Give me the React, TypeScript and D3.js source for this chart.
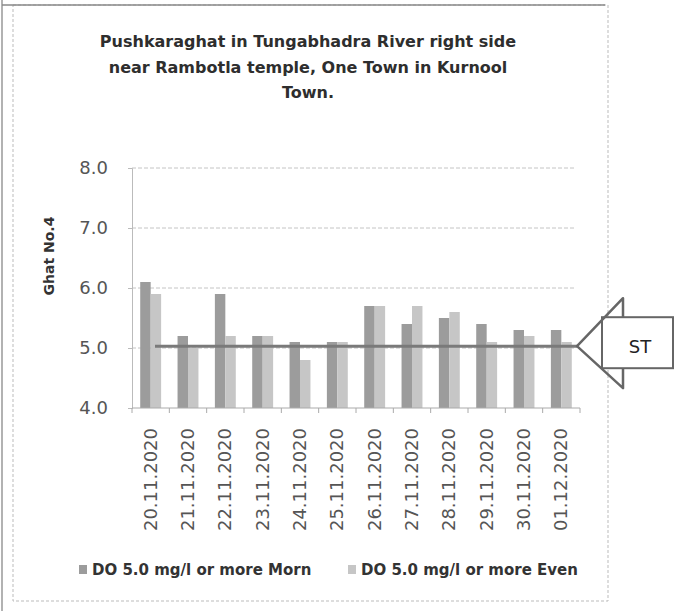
import React, { useEffect, useRef } from "react";
import * as d3 from "d3";

const dates = [
  "20.11.2020", "21.11.2020", "22.11.2020", "23.11.2020", "24.11.2020", "25.11.2020",
  "26.11.2020", "27.11.2020", "28.11.2020", "29.11.2020", "30.11.2020", "01.12.2020",
];
const morning = [6.1, 5.2, 5.9, 5.2, 5.1, 5.1, 5.7, 5.4, 5.5, 5.4, 5.3, 5.3];
const evening = [5.9, 5.0, 5.2, 5.2, 4.8, 5.1, 5.7, 5.7, 5.6, 5.1, 5.2, 5.1];
const yTicks = [4, 5, 6, 7, 8];
const standard = 5.03;
const seriesNames = ["DO 5.0 mg/l or more Morn", "DO 5.0 mg/l or more Even"];
const titleLines = [
  "Pushkaraghat in Tungabhadra River right side",
  "near Rambotla temple, One Town in Kurnool",
  "Town.",
];

const W = 683;
const H = 611;
const font = "DejaVu Sans, sans-serif";

function App() {
  const ref = useRef<SVGSVGElement>(null);

  useEffect(() => {
    const svg = d3.select(ref.current);
    svg.selectAll("*").remove();

    // outer frame, like the scanned chart box
    svg.append("rect").attr("width", W).attr("height", H).attr("fill", "#fff");
    svg.append("rect")
      .attr("x", 13).attr("y", 5).attr("width", 595).attr("height", 596)
      .attr("fill", "none").attr("stroke", "#bbb").attr("stroke-dasharray", "3,2");
    svg.append("line")
      .attr("x1", 2).attr("x2", 2).attr("y1", 0).attr("y2", H)
      .attr("stroke", "#999").attr("stroke-width", 1.5);
    svg.append("line")
      .attr("x1", 2).attr("x2", 605).attr("y1", 5).attr("y2", 5)
      .attr("stroke", "#888").attr("stroke-width", 1.5);

    // title
    svg.append("g").selectAll("text")
      .data(titleLines)
      .join("text")
      .attr("x", 308)
      .attr("y", (_, i) => 47 + i * 25.5)
      .attr("text-anchor", "middle")
      .style("font-family", font)
      .style("font-weight", "bold")
      .style("font-size", "16px")
      .style("fill", "#2e2e2e")
      .text(d => d);

    const left = 132, right = 580, top = 168, bottom = 408;

    const x = d3.scaleBand<string>().domain(dates).range([left, right])
      .paddingInner(0.44).paddingOuter(0.22);
    const inner = d3.scaleBand<number>().domain([0, 1]).range([0, x.bandwidth()]);
    const y = d3.scaleLinear().domain([4, 8]).range([bottom, top]);

    // grid
    svg.append("g").selectAll("line")
      .data(yTicks.filter(t => t > 4))
      .join("line")
      .attr("x1", left).attr("x2", right - 4)
      .attr("y1", d => y(d)).attr("y2", d => y(d))
      .attr("stroke", "#c4c4c4").attr("stroke-dasharray", "4,2");

    // y axis
    const yAxis = svg.append("g")
      .attr("transform", `translate(${left},0)`)
      .call(d3.axisLeft(y).tickValues(yTicks).tickFormat(d3.format(".1f")).tickSize(4).tickPadding(20));
    yAxis.select(".domain").attr("stroke", "#bbb");
    yAxis.selectAll(".tick line").attr("stroke", "#bbb");
    yAxis.selectAll("text")
      .style("font-family", font).style("font-size", "18px").style("fill", "#555");

    svg.append("text")
      .attr("transform", "translate(54,256) rotate(-90)")
      .attr("text-anchor", "middle")
      .style("font-family", font).style("font-weight", "bold").style("font-size", "14px")
      .style("fill", "#333")
      .text("Ghat No.4");

    // bars
    const series = [morning, evening];
    const colors = ["#9c9c9c", "#c6c6c6"];
    series.forEach((vals, s) => {
      svg.append("g").selectAll("rect")
        .data(vals)
        .join("rect")
        .attr("x", (_, i) => (x(dates[i]) as number) + (inner(s) as number))
        .attr("width", inner.bandwidth())
        .attr("y", d => y(d))
        .attr("height", d => bottom - y(d))
        .attr("fill", colors[s]);
    });

    // x axis
    const step = x.step();
    svg.append("line")
      .attr("x1", left).attr("x2", right).attr("y1", bottom).attr("y2", bottom)
      .attr("stroke", "#aaa");
    svg.append("g").selectAll("line")
      .data(d3.range(dates.length + 1))
      .join("line")
      .attr("x1", i => left + i * step).attr("x2", i => left + i * step)
      .attr("y1", bottom).attr("y2", bottom + 5)
      .attr("stroke", "#aaa");
    svg.append("g").selectAll("text")
      .data(dates)
      .join("text")
      .attr("transform", d => `translate(${(x(d) as number) + x.bandwidth() / 2 + 6},${bottom + 20}) rotate(-90)`)
      .attr("text-anchor", "end")
      .style("font-family", font).style("font-size", "18px").style("fill", "#555")
      .text(d => d);

    // standard line with ST arrow callout
    const sy = y(standard);
    svg.append("line")
      .attr("x1", 155).attr("x2", right - 3).attr("y1", sy).attr("y2", sy)
      .attr("stroke", "#7a7a7a").attr("stroke-width", 3);
    const tip = right - 3;
    svg.append("rect")
      .attr("x", 602).attr("y", sy - 29).attr("width", 71).attr("height", 51)
      .attr("fill", "#fff").attr("stroke", "#666").attr("stroke-width", 2);
    svg.append("path")
      .attr("d", `M623,${sy - 29} L623,${sy - 48} L${tip},${sy} L623,${sy + 42} L623,${sy + 22}`)
      .attr("fill", "none").attr("stroke", "#666").attr("stroke-width", 2.5).attr("stroke-linejoin", "round");
    svg.append("text")
      .attr("x", 640).attr("y", sy + 7)
      .attr("text-anchor", "middle")
      .style("font-family", font).style("font-size", "18px").style("fill", "#222")
      .text("ST");

    // legend
    const legendX = [79, 348];
    const lg = svg.append("g").selectAll("g")
      .data(seriesNames)
      .join("g")
      .attr("transform", (_, i) => `translate(${legendX[i]},570)`);
    lg.append("rect")
      .attr("x", 0).attr("y", -5).attr("width", 8).attr("height", 9)
      .attr("fill", (_, i) => colors[i]);
    lg.append("text")
      .attr("x", 13).attr("y", 5)
      .style("font-family", font).style("font-weight", "bold").style("font-size", "15px")
      .style("fill", "#333")
      .text(d => d);
  }, []);

  return (
    <svg ref={ref} width={W} height={H} style={{ position: "absolute", left: 0, top: 0 }}></svg>
  );
}

export default App;
